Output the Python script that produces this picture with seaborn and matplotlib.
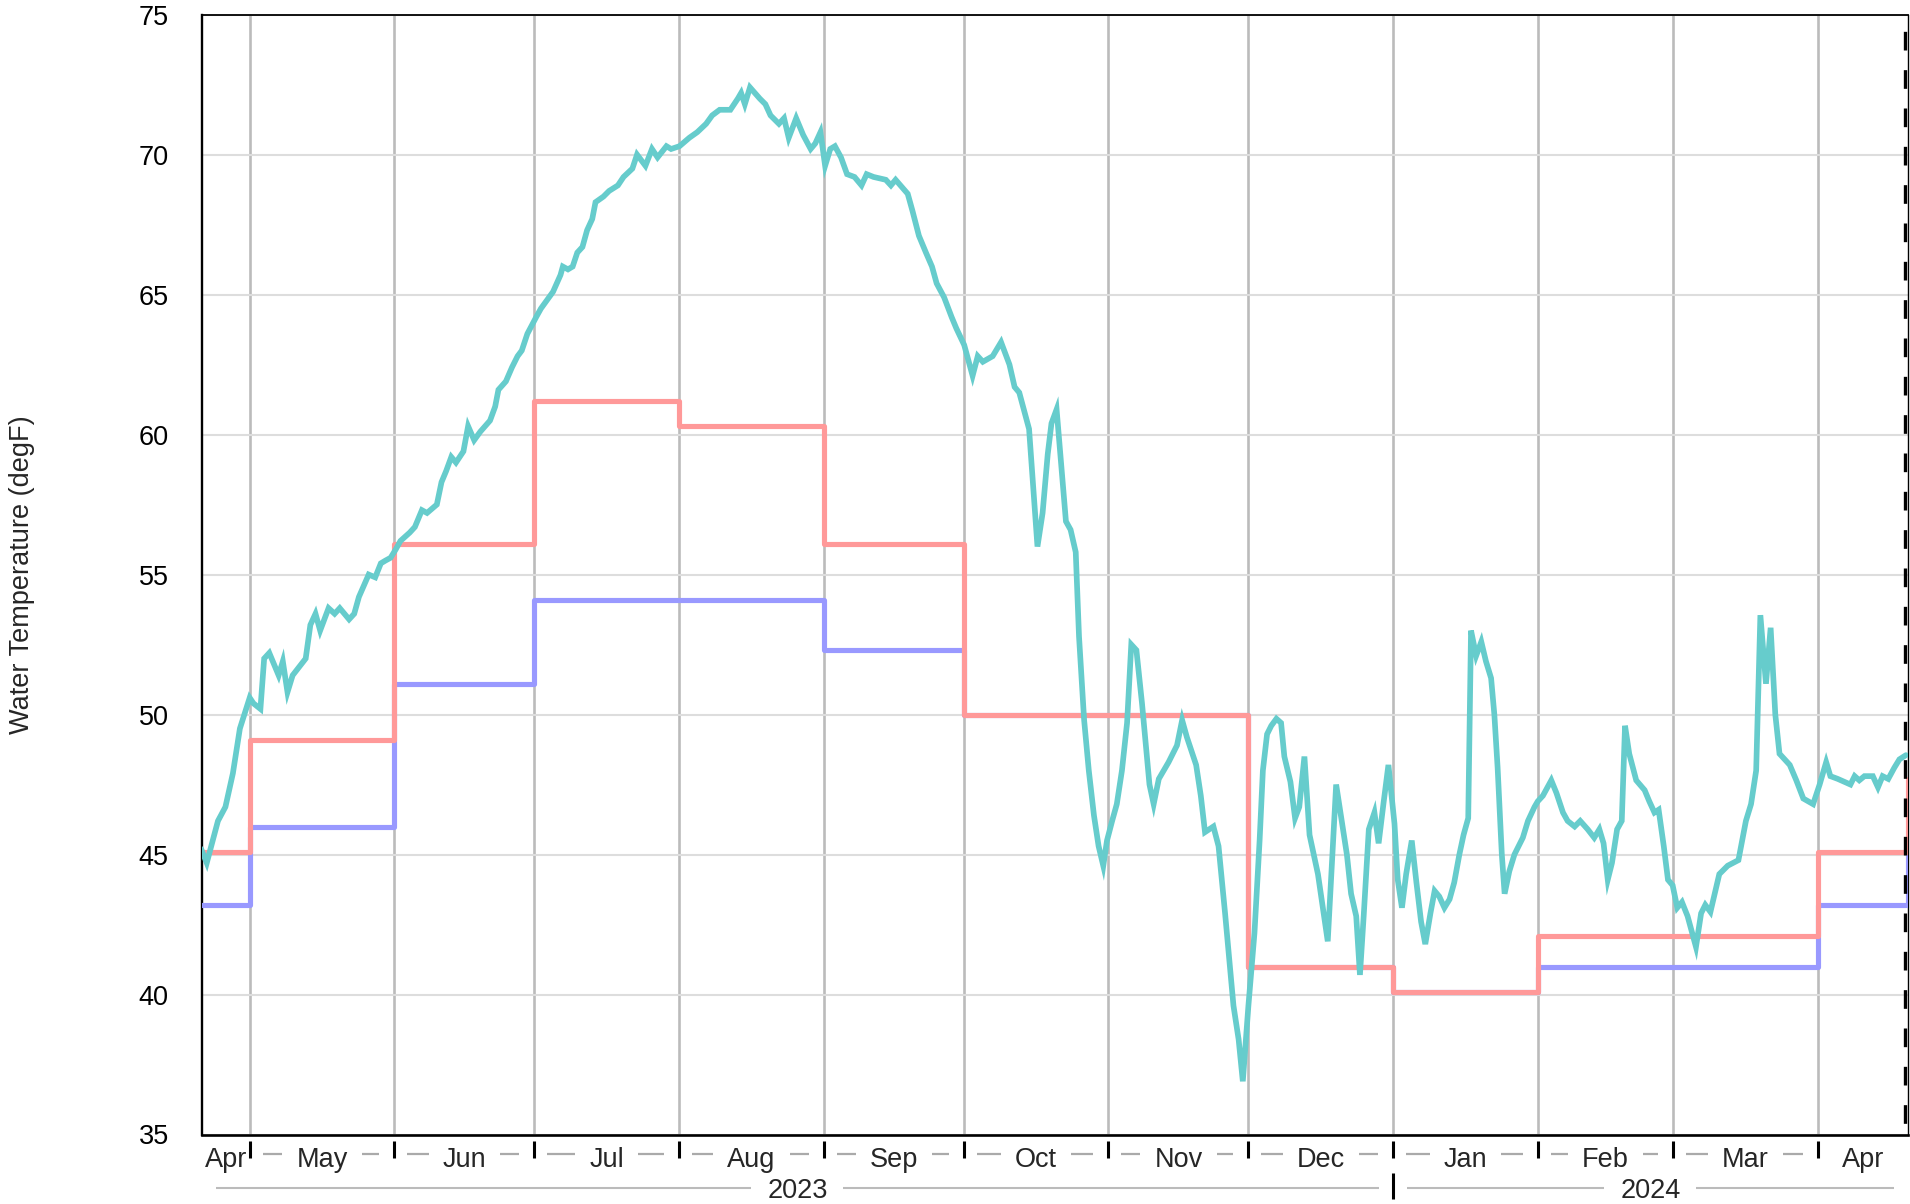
import matplotlib
matplotlib.use('Agg')
import numpy as np
import pandas as pd
import matplotlib.pyplot as plt
import matplotlib.dates as mdates
from matplotlib.transforms import offset_copy
from matplotlib.lines import Line2D
import seaborn as sns

# ---------------- data ----------------
BASE_DATE = '2023-05-01'
X_START = '2023-04-20 18:45'
X_END = '2024-04-20 08:00'
NOW_LINE = '2024-04-19 18:30'

# daily water temperature (day offsets from BASE_DATE, degF)
temp_day = [
    -10.4, -9.2, -6.8, -5.2, -3.6, -2.1, 0.0, 0.8, 2.3, 3.1, 4.2, 6.2, 7.1, 8.1, 9.2,
    12.0, 13.0, 14.1, 15.1, 16.9, 18.2, 19.3, 21.3, 22.4, 23.4, 25.5, 26.9, 28.1, 29.1,
    30.2, 31.3, 32.3, 34.3, 35.4, 36.9, 38.0, 40.1, 41.1, 42.1, 43.2, 44.2, 45.8, 46.8,
    48.1, 49.4, 51.5, 52.6, 53.3, 54.9, 56.2, 57.4, 58.3, 59.5, 61.4, 62.4, 63.7, 65.0,
    66.6, 67.1, 68.2, 69.2, 70.2, 71.3, 72.3, 73.4, 74.1, 75.8, 77.0, 78.9, 80.1, 82.0,
    83.0, 84.8, 86.2, 87.4, 89.3, 90.3, 92.1, 94.2, 95.9, 97.8, 99.1, 100.7, 103.0,
    104.6, 105.3, 106.1, 107.2, 109.3, 110.5, 111.6, 113.4, 114.5, 115.5, 117.1, 118.6,
    120.2, 121.2, 122.3, 123.3, 124.4, 125.4, 126.7, 128.0, 129.6, 131.1, 132.2, 133.7,
    136.3, 137.4, 138.4, 141.0, 142.0, 143.4, 144.9, 146.2, 147.2, 148.8, 150.4, 151.4,
    153.1, 154.9, 156.0, 157.1, 159.2, 161.0, 162.8, 163.9, 164.9, 167.0, 168.8, 169.9,
    171.0, 171.8, 172.9, 173.8, 174.9, 175.9, 177.0, 177.7, 178.8, 179.8, 180.9, 181.9,
    182.9, 183.7, 184.8, 185.8, 186.9, 188.0, 188.9, 190.0, 191.2, 192.3, 192.8, 193.7,
    194.8, 196.9, 198.7, 199.8, 200.8, 202.8, 203.8, 204.7, 206.5, 207.6, 209.0, 210.8,
    211.9, 212.8, 214.0, 215.3, 216.4, 217.1, 218.0, 218.9, 220.0, 221.0, 221.7, 223.0,
    224.0, 224.9, 226.0, 227.1, 228.9, 231.0, 232.8, 235.1, 236.0, 237.1, 237.9, 238.7,
    239.8, 241.0, 241.9, 243.0, 244.0, 245.3, 246.0, 246.9, 247.8, 249.0, 250.0, 251.0,
    251.9, 253.0, 253.9, 254.9, 256.0, 257.1, 258.1, 259.2, 260.1, 261.1, 261.7, 262.8,
    263.9, 264.9, 266.0, 266.7, 267.4, 268.3, 268.9, 269.9, 271.0, 272.8, 273.9, 275.3,
    276.0, 277.1, 278.9, 280.0, 281.4, 282.4, 283.9, 285.1, 286.7, 288.1, 289.2, 290.1,
    291.0, 291.9, 293.0, 294.0, 294.7, 295.6, 297.1, 298.9, 299.9, 301.0, 301.9, 303.0,
    303.9, 304.9, 305.9, 306.9, 308.1, 309.9, 311.0, 311.9, 313.0, 314.9, 316.7, 319.0,
    320.6, 321.7, 322.8, 323.7, 324.9, 325.9, 326.9, 327.8, 330.0, 331.4, 332.9, 335.0,
    336.4, 337.8, 338.7, 340.3, 343.0, 343.9, 344.9, 346.0, 347.8, 348.9, 349.9, 351.1,
    352.4, 353.5, 354.9,
]
temp_degf = [
    45.2, 44.7, 46.2, 46.7, 47.9, 49.5, 50.6, 50.4, 50.2, 52.0, 52.2, 51.4, 51.9, 50.8, 51.4,
    52.0, 53.2, 53.6, 53.0, 53.8, 53.6, 53.8, 53.4, 53.6, 54.2, 55.0, 54.9, 55.4, 55.5,
    55.6, 55.9, 56.2, 56.5, 56.7, 57.3, 57.2, 57.5, 58.3, 58.7, 59.2, 59.0, 59.4, 60.3,
    59.8, 60.1, 60.5, 61.0, 61.6, 61.9, 62.4, 62.8, 63.0, 63.6, 64.2, 64.5, 64.8, 65.1,
    65.7, 66.0, 65.9, 66.0, 66.5, 66.7, 67.3, 67.7, 68.3, 68.5, 68.7, 68.9, 69.2, 69.5,
    70.0, 69.6, 70.2, 69.9, 70.3, 70.2, 70.3, 70.6, 70.8, 71.1, 71.4, 71.6, 71.6,
    72.0, 72.2, 71.8, 72.4, 72.0, 71.8, 71.4, 71.1, 71.3, 70.6, 71.3, 70.7,
    70.2, 70.4, 70.8, 69.6, 70.2, 70.3, 69.9, 69.3, 69.2, 68.9, 69.3, 69.2,
    69.1, 68.9, 69.1, 68.6, 68.0, 67.1, 66.5, 66.0, 65.4, 64.9, 64.2, 63.8,
    63.2, 62.1, 62.8, 62.6, 62.8, 63.3, 62.5, 61.7, 61.5, 60.2, 56.0, 57.2,
    59.3, 60.4, 60.9, 59.1, 56.9, 56.6, 55.8, 52.8, 49.8, 48.0, 46.4, 45.3,
    44.6, 45.5, 46.2, 46.8, 48.0, 49.7, 52.5, 52.3, 50.4, 48.4, 47.5, 46.8,
    47.7, 48.3, 48.9, 49.8, 49.2, 48.2, 47.1, 45.8, 46.0, 45.3, 42.9, 39.6,
    38.4, 36.9, 39.6, 42.2, 45.5, 48.0, 49.3, 49.6, 49.85, 49.7, 48.5, 47.6,
    46.3, 46.7, 48.5, 45.7, 44.3, 41.9, 47.5, 45.0, 43.6, 42.8, 40.7, 42.8,
    45.9, 46.5, 45.4, 46.9, 48.2, 46.1, 44.1, 43.1, 44.3, 45.5, 44.0, 42.6,
    41.8, 42.9, 43.7, 43.5, 43.1, 43.4, 44.0, 45.0, 45.7, 46.3, 53.0, 52.1,
    52.6, 51.9, 51.3, 50.0, 48.1, 45.0, 43.6, 44.4, 45.0, 45.6, 46.2, 46.7,
    46.9, 47.1, 47.65, 47.2, 46.5, 46.2, 46.0, 46.2, 45.9, 45.6, 45.9, 45.4,
    44.1, 44.7, 45.9, 46.2, 49.6, 48.6, 47.65, 47.3, 46.9, 46.5, 46.6, 45.3,
    44.1, 43.9, 43.1, 43.3, 42.8, 41.7, 42.9, 43.2, 42.95, 44.3, 44.6, 44.8,
    46.2, 46.8, 48.0, 53.55, 51.1, 53.1, 50.0, 48.6, 48.2, 47.65, 47.0, 46.8,
    47.5, 48.3, 47.8, 47.7, 47.5, 47.8, 47.65, 47.8, 47.8, 47.4, 47.8, 47.7,
    48.1, 48.4, 48.55,
]

# monthly reference steps
step_dates = ['2023-04-01', '2023-05-01', '2023-06-01', '2023-07-01', '2023-08-01',
              '2023-09-01', '2023-10-01', '2023-11-01', '2023-12-01', '2024-01-01',
              '2024-02-01', '2024-03-01', '2024-04-01', X_END]
upper_degf = [45.1, 49.1, 56.1, 61.2, 60.3, 56.1, 50.0, 50.0, 41.0, 40.1, 42.1, 42.1, 45.1, 47.7]
lower_degf = [43.2, 46.0, 51.1, 54.1, 54.1, 52.3, 50.0, 50.0, 41.0, 40.1, 41.0, 41.0, 43.2, 45.0]

month_bounds = ['2023-05-01', '2023-06-01', '2023-07-01', '2023-08-01', '2023-09-01',
                '2023-10-01', '2023-11-01', '2023-12-01', '2024-01-01', '2024-02-01',
                '2024-03-01', '2024-04-01']
month_labels = ['Apr', 'May', 'Jun', 'Jul', 'Aug', 'Sep', 'Oct', 'Nov', 'Dec',
                'Jan', 'Feb', 'Mar', 'Apr']
year_bounds = ['2024-01-01']
year_labels = ['2023', '2024']
y_ticks = [35, 40, 45, 50, 55, 60, 65, 70, 75]

# ---------------- style ----------------
sns.set_style('white')
plt.rcParams['font.family'] = ['Liberation Sans', 'DejaVu Sans']
FS = 19.5

W_PX, H_PX, DPI = 1910, 1204, 100
AX_L, AX_R, AX_T, AX_B = 202, 1908, 14.6, 1134.5
fig = plt.figure(figsize=(W_PX / DPI, H_PX / DPI), dpi=DPI)
ax = fig.add_axes([AX_L / W_PX, 1 - AX_B / H_PX, (AX_R - AX_L) / W_PX, (AX_B - AX_T) / H_PX])

TEAL, RED, BLUE = '#66cccc', '#ff9999', '#9999ff'

df_temp = pd.DataFrame({
    'date': pd.Timestamp(BASE_DATE) + pd.to_timedelta(temp_day, unit='D'),
    'degF': temp_degf,
})
df_step = pd.DataFrame({'date': pd.to_datetime(step_dates, format='mixed'),
                        'upper': upper_degf, 'lower': lower_degf})

sns.lineplot(data=df_step, x='date', y='lower', ax=ax, color=BLUE, lw=3.7,
             drawstyle='steps-post', zorder=3, estimator=None)
sns.lineplot(data=df_step, x='date', y='upper', ax=ax, color=RED, lw=3.7,
             drawstyle='steps-post', zorder=4, estimator=None)
sns.lineplot(data=df_temp, x='date', y='degF', ax=ax, color=TEAL, lw=4.1,
             zorder=5, estimator=None, solid_joinstyle='miter')

ax.axvline(pd.Timestamp(NOW_LINE), color='black', lw=2.4,
           linestyle=(8.0, (5.6, 5.9)), zorder=6)

x0, x1 = pd.Timestamp(X_START), pd.Timestamp(X_END)
ax.set_xlim(x0, x1)
ax.set_ylim(35, 75)
ax.set_yticks(y_ticks)
ax.set_xticks(pd.to_datetime(month_bounds))
ax.set_xlabel('')
ax.set_ylabel('')
ax.tick_params(axis='x', length=0, labelbottom=False)
ax.tick_params(axis='y', direction='out', length=12, width=1.6, pad=12,
               labelsize=FS, color='black', labelcolor='black')
ax.xaxis.grid(True, color='#bbbbbb', lw=1.9)
ax.yaxis.grid(True, color='#dddddd', lw=1.5)
ax.set_axisbelow(True)
for side, lw in [('left', 1.7), ('bottom', 1.9), ('top', 1.3), ('right', 1.0)]:
    ax.spines[side].set_visible(True)
    ax.spines[side].set_color('black')
    ax.spines[side].set_linewidth(lw)

fig.text(22 / W_PX, 1 - ((AX_T + AX_B) / 2) / H_PX, 'Water Temperature (degF)',
         rotation=90, ha='center', va='center', fontsize=FS)

# ---------------- two-tier date axis ----------------
xt = ax.get_xaxis_transform()
MONTH_BASE, MONTH_LINE = 32.8, 19.8
YEAR_BASE, YEAR_LINE = 63.8, 53.8
SEP_M = (6.2, 23.0)
SEP_Y = (38.8, 64.0)

bounds_m = [x0] + list(pd.to_datetime(month_bounds)) + [x1]
bounds_y = [x0] + list(pd.to_datetime(year_bounds)) + [x1]

texts_m, texts_y = [], []
for i, lab in enumerate(month_labels):
    mid = bounds_m[i] + (bounds_m[i + 1] - bounds_m[i]) / 2
    t = ax.text(mid, 0, lab, transform=offset_copy(xt, fig=fig, y=-MONTH_BASE, units='dots'),
                ha='center', va='baseline', fontsize=FS, clip_on=False)
    texts_m.append(t)
for i, lab in enumerate(year_labels):
    mid = bounds_y[i] + (bounds_y[i + 1] - bounds_y[i]) / 2
    t = ax.text(mid, 0, lab, transform=offset_copy(xt, fig=fig, y=-YEAR_BASE, units='dots'),
                ha='center', va='baseline', fontsize=FS, clip_on=False)
    texts_y.append(t)

fig.canvas.draw()
renderer = fig.canvas.get_renderer()
ax_bottom_disp = ax.transAxes.transform((0, 0))[1]


def xdisp(d):
    return ax.transData.transform((mdates.date2num(d), 0))[0]


def hline_px(xa, xb, off, color, lw):
    if xb - xa <= 0.5:
        return
    yy = (ax_bottom_disp - off) / H_PX
    fig.add_artist(Line2D([xa / W_PX, xb / W_PX], [yy, yy], transform=fig.transFigure,
                          color=color, lw=lw, solid_capstyle='butt'))


def vline_px(x, offs, lw):
    ya = (ax_bottom_disp - offs[0]) / H_PX
    yb = (ax_bottom_disp - offs[1]) / H_PX
    fig.add_artist(Line2D([x / W_PX, x / W_PX], [ya, yb], transform=fig.transFigure,
                          color='black', lw=lw, solid_capstyle='butt'))


for i, t in enumerate(texts_m):
    bb = t.get_window_extent(renderer)
    a, b = xdisp(bounds_m[i]), xdisp(bounds_m[i + 1])
    hline_px(a + 13, bb.x0 - 14, MONTH_LINE, '#aaaaaa', 1.6)
    hline_px(bb.x1 + 14, b - 15, MONTH_LINE, '#aaaaaa', 1.6)
for i, t in enumerate(texts_y):
    bb = t.get_window_extent(renderer)
    a, b = xdisp(bounds_y[i]), xdisp(bounds_y[i + 1])
    hline_px(a + 14, bb.x0 - 16, YEAR_LINE, '#bbbbbb', 1.5)
    hline_px(bb.x1 + 15, b - 14, YEAR_LINE, '#bbbbbb', 1.5)

for b in pd.to_datetime(month_bounds):
    vline_px(xdisp(b), SEP_M, 2.2)
for b in pd.to_datetime(year_bounds):
    vline_px(xdisp(b), SEP_Y, 2.2)

fig.savefig('out.png', dpi=DPI)
